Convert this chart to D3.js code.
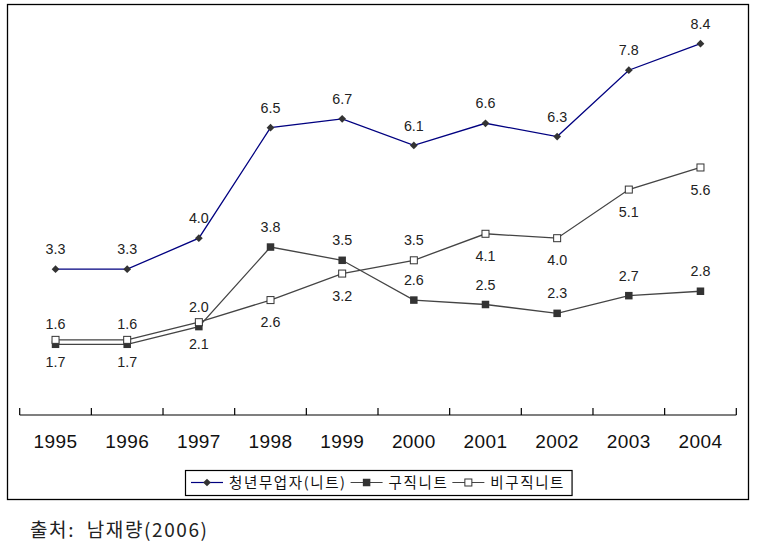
<!DOCTYPE html>
<html><head><meta charset="utf-8">
<script src="https://cdn.jsdelivr.net/npm/d3@7"></script>
<style>body{margin:0;background:#fff}svg{display:block}</style>
</head><body>
<svg id="c" width="762" height="548"></svg>
<script>
const years = ["1995","1996","1997","1998","1999","2000","2001","2002","2003","2004"];
const neetTotal = [3.3,3.3,4.0,6.5,6.7,6.1,6.6,6.3,7.8,8.4];
const neetSeeking = [1.6,1.6,2.0,3.8,3.5,2.6,2.5,2.3,2.7,2.8];
const neetNonSeeking = [1.7,1.7,2.1,2.6,3.2,3.5,4.1,4.0,5.1,5.6];
const seriesNames = ["청년무업자(니트)","구직니트","비구직니트"];
const sourceText = "출처:  남재량(2006)";

// label placement (style only)
const placeTotal = years.map(()=>"above");
const placeSeeking = years.map(()=>"above");
const placeNonSeeking = ["below","below","below","below","below","above","below","below","below","below"];

const svg = d3.select("#c");
const sans = "'Liberation Sans', Arial, sans-serif";
const kr = "'Noto Sans CJK KR', sans-serif";

const x = d3.scaleBand().domain(years).range([19.7, 736.3]).padding(0);
const y = d3.scaleLinear().domain([0, 9]).range([415, 17.2]);
const cx = d => x(d) + x.bandwidth()/2;

// frame
svg.append("rect").attr("x",7.5).attr("y",4.5).attr("width",741).attr("height",495)
  .attr("fill","none").attr("stroke","#000").attr("stroke-width",1.3);

// axis
const ax = svg.append("g").attr("transform",`translate(0,${y(0)})`)
  .call(d3.axisBottom(x).tickSize(0).tickPadding(20));
ax.select(".domain").remove();
ax.selectAll("text").attr("font-family",sans).attr("font-size",19).attr("fill","#111")
  .attr("letter-spacing",0.4);
svg.append("line").attr("x1",x.range()[0]).attr("x2",x.range()[1])
  .attr("y1",y(0)).attr("y2",y(0)).attr("stroke","#000").attr("stroke-width",1.2);
const bounds = d3.range(years.length+1).map(i => x.range()[0] + i*x.step());
svg.selectAll(".tk").data(bounds).join("line").attr("class","tk")
  .attr("x1",d=>d).attr("x2",d=>d).attr("y1",y(0)).attr("y2",y(0)-7)
  .attr("stroke","#000").attr("stroke-width",1.2);

const series = [
  {name:seriesNames[0], vals:neetTotal, place:placeTotal, color:"#000080", marker:"diamond"},
  {name:seriesNames[1], vals:neetSeeking, place:placeSeeking, color:"#444", marker:"filled"},
  {name:seriesNames[2], vals:neetNonSeeking, place:placeNonSeeking, color:"#444", marker:"open"}
];

function drawMarker(g, type, px, py){
  if(type==="diamond"){
    g.append("path").attr("d",d3.symbol(d3.symbolSquare, 30)())
      .attr("transform",`translate(${px},${py}) rotate(45)`).attr("fill","#333");
  } else if(type==="filled"){
    g.append("rect").attr("x",px-3.75).attr("y",py-3.75).attr("width",7.5).attr("height",7.5).attr("fill","#333");
  } else {
    g.append("rect").attr("x",px-3.5).attr("y",py-3.5).attr("width",7).attr("height",7)
      .attr("fill","#fff").attr("stroke","#333").attr("stroke-width",1);
  }
}

const line = d3.line().x(d=>cx(d.year)).y(d=>y(d.v));
series.forEach(s=>{
  const pts = years.map((yr,i)=>({year:yr, v:s.vals[i], p:s.place[i]}));
  const g = svg.append("g");
  g.append("path").datum(pts).attr("d",line).attr("fill","none")
    .attr("stroke",s.color).attr("stroke-width",1.3);
  pts.forEach(p=> drawMarker(g, s.marker, cx(p.year), y(p.v)));
  svg.append("g").selectAll("text").data(pts).join("text")
    .attr("x",p=>cx(p.year)).attr("y",p=>y(p.v) + (p.p==="above"?-20:22))
    .attr("dy","0.36em").attr("text-anchor","middle")
    .attr("font-family",sans).attr("font-size",14.3).attr("fill","#222")
    .text(p=>p.v.toFixed(1));
});

// legend
const lg = svg.append("g");
const lbox = lg.append("rect").attr("y",470.5).attr("height",25).attr("fill","#fff")
  .attr("stroke","#000").attr("stroke-width",1.2);
let lx = 191;
const ly = 482.5;
series.forEach((s,i)=>{
  lg.append("line").attr("x1",lx).attr("x2",lx+32).attr("y1",ly).attr("y2",ly)
    .attr("stroke",s.color).attr("stroke-width",1.2);
  drawMarker(lg, s.marker, lx+16, ly);
  const t = lg.append("text").attr("x",lx+38).attr("y",ly).attr("dy","0.36em")
    .attr("font-family",kr).attr("font-size",14.5).attr("letter-spacing",1.6)
    .attr("fill","#111").text(s.name);
  lx = lx + 38 + t.node().getComputedTextLength() + 4;
});
lbox.attr("x",185.5).attr("width",lx - 185.5 + 3);

// source
svg.append("text").attr("x",30).attr("y",530).attr("dy","0.36em")
  .attr("font-family",kr).attr("font-size",19).attr("letter-spacing",1.6).attr("fill","#222")
  .style("white-space","pre").text(sourceText);
</script>
</body></html>
